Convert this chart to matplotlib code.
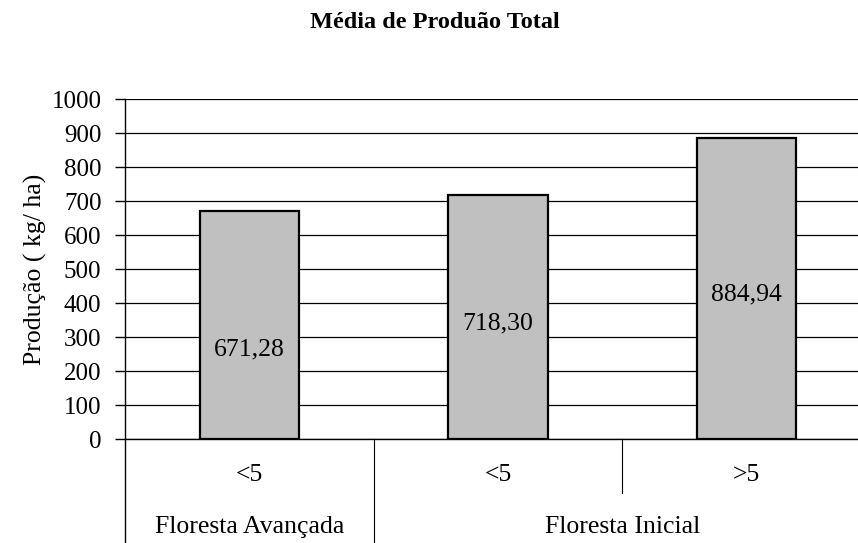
import matplotlib
matplotlib.use("Agg")
import matplotlib.pyplot as plt
from matplotlib.lines import Line2D

plt.rcParams['font.family'] = ['Liberation Serif', 'DejaVu Serif']

groups = ["Floresta Avançada", "Floresta Inicial"]
group_sizes = [1, 2]
subcats = ["<5", "<5", ">5"]
values = [671.28, 718.30, 884.94]
value_labels = ["671,28", "718,30", "884,94"]
label_pos = [262, 341, 426]
yticks = list(range(0, 1001, 100))

W, H = 858, 543
fig = plt.figure(figsize=(W / 100, H / 100), dpi=100)
left, right, top, bottom = 125, 871, 99, 439
ax = fig.add_axes([left / W, 1 - bottom / H, (right - left) / W, (bottom - top) / H])

FS = 18.5

x = list(range(len(values)))
ax.bar(x, values, width=0.4, color="#C0C0C0", edgecolor="black", linewidth=1.6, zorder=3)
for xi, lab, ly in zip(x, value_labels, label_pos):
    ax.text(xi, ly, lab, ha="center", va="center", fontsize=FS, zorder=4)

ax.set_xlim(-0.5, len(values) - 0.5)
ax.set_ylim(0, 1000)
ax.set_yticks(yticks)
ax.set_yticklabels([str(t) for t in yticks], fontsize=18)
ax.tick_params(axis="y", length=7, width=1, direction="out", pad=10)
ax.set_xticks([])
ax.yaxis.grid(True, color="black", linewidth=0.9)
ax.set_axisbelow(True)
for s in ["top", "right"]:
    ax.spines[s].set_visible(False)
ax.spines["left"].set_linewidth(1)
ax.spines["bottom"].set_linewidth(1)

fig.text(35 / W, 1 - 269 / H, "Produção ( kg/ ha)", rotation=90, ha="center", va="center",
         fontsize=FS)
fig.text(435 / W, 1 - 23 / H, "Média de Produão Total", ha="center", va="center",
         fontsize=17.5, fontweight="bold")

# multi-level category axis
trans = ax.get_xaxis_transform()
for xi, lab in zip(x, subcats):
    ax.text(xi, -(475 - bottom) / (bottom - top), lab, transform=trans,
            ha="center", va="center", fontsize=FS)
start = 0
for g, n in zip(groups, group_sizes):
    c = start + (n - 1) / 2
    ax.text(c, -(527 - bottom) / (bottom - top), g, transform=trans,
            ha="center", va="center", fontsize=FS)
    start += n

ylow_full = -(H - bottom + 5) / (bottom - top)
ylow_short = -(493 - bottom) / (bottom - top)
ax.add_line(Line2D([-0.5, -0.5], [0, ylow_full], transform=trans, color="black",
                   linewidth=1, clip_on=False))
start = 0
for n in group_sizes:
    for k in range(1, n):
        xb = start + k - 0.5
        ax.add_line(Line2D([xb, xb], [0, ylow_short], transform=trans, color="black",
                           linewidth=0.8, clip_on=False))
    start += n
    if start < len(values):
        xb = start - 0.5
        ax.add_line(Line2D([xb, xb], [0, ylow_full], transform=trans, color="black",
                           linewidth=0.8, clip_on=False))

fig.savefig("out.png", dpi=100)
